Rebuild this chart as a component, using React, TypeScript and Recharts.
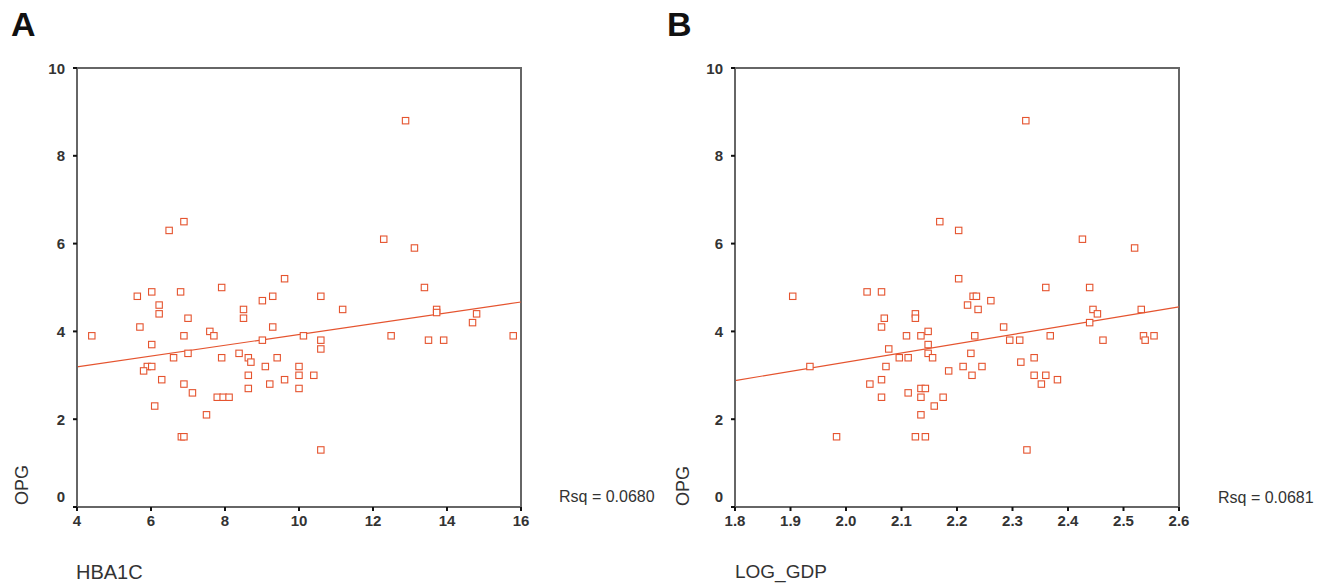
import React from "react";
import {
  ScatterChart,
  Scatter,
  XAxis,
  YAxis,
  ReferenceArea,
  ReferenceLine,
} from "recharts";

// Panel A: HBA1C vs OPG
const hba1c = [
  4.4, 5.63, 5.7, 6.02, 6.02, 6.22, 6.22, 5.9, 5.8, 6.02, 6.29, 6.1, 6.49, 6.89, 6.61, 6.8, 6.89,
  7.0, 7.0, 6.89, 7.12, 6.82, 6.89, 7.5, 7.59, 7.7, 7.91, 7.91, 7.79, 7.95, 8.11, 8.38, 8.5, 8.5,
  8.63, 8.7, 8.63, 8.63, 9.01, 9.01, 9.29, 9.29, 9.09, 9.21, 9.41, 9.61, 9.61, 10.0, 10.0, 10.0,
  10.12, 10.4, 10.59, 10.59, 10.59, 10.59, 11.18, 12.29, 12.49, 12.88, 13.12, 13.39, 13.5, 13.72,
  13.72, 13.91, 14.69, 14.8, 15.79,
];
const opgA = [
  3.9, 4.8, 4.1, 4.9, 3.7, 4.6, 4.4, 3.2, 3.1, 3.2, 2.9, 2.3, 6.3, 6.5, 3.4, 4.9, 3.9, 4.3, 3.5,
  2.8, 2.6, 1.6, 1.6, 2.1, 4.0, 3.9, 5.0, 3.4, 2.5, 2.5, 2.5, 3.5, 4.5, 4.3, 3.4, 3.3, 3.0, 2.7,
  4.7, 3.8, 4.8, 4.1, 3.2, 2.8, 3.4, 5.2, 2.9, 3.2, 3.0, 2.7, 3.9, 3.0, 4.8, 3.8, 3.6, 1.3, 4.5,
  6.1, 3.9, 8.8, 5.9, 5.0, 3.8, 4.5, 4.43, 3.8, 4.2, 4.4, 3.9,
];
const fitA = [
  { x: 4, y: 3.19 },
  { x: 16, y: 4.67 },
];

// Panel B: LOG_GDP vs OPG
const logGdp = [
  1.904, 1.935, 1.983, 2.038, 2.043, 2.064, 2.064, 2.064, 2.064, 2.069, 2.077, 2.072, 2.096, 2.109,
  2.112, 2.112, 2.125, 2.125, 2.125, 2.135, 2.135, 2.143, 2.135, 2.135, 2.143, 2.148, 2.148, 2.148,
  2.156, 2.159, 2.169, 2.175, 2.185, 2.203, 2.203, 2.211, 2.219, 2.225, 2.227, 2.229, 2.235, 2.238,
  2.232, 2.245, 2.261, 2.284, 2.295, 2.313, 2.315, 2.324, 2.326, 2.339, 2.339, 2.352, 2.36, 2.36,
  2.368, 2.381, 2.426, 2.439, 2.439, 2.445, 2.453, 2.463, 2.52, 2.532, 2.536, 2.539, 2.555,
];
const opgB = [
  4.8, 3.2, 1.6, 4.9, 2.8, 4.9, 4.1, 2.9, 2.5, 4.3, 3.6, 3.2, 3.4, 3.9, 3.4, 2.6, 4.4, 4.3, 1.6,
  3.9, 2.7, 2.7, 2.5, 2.1, 1.6, 4.0, 3.7, 3.5, 3.4, 2.3, 6.5, 2.5, 3.1, 6.3, 5.2, 3.2, 4.6, 3.5,
  3.0, 4.8, 4.8, 4.5, 3.9, 3.2, 4.7, 4.1, 3.8, 3.8, 3.3, 8.8, 1.3, 3.4, 3.0, 2.8, 5.0, 3.0, 3.9,
  2.9, 6.1, 5.0, 4.2, 4.5, 4.4, 3.8, 5.9, 4.5, 3.9, 3.8, 3.9,
];
const fitB = [
  { x: 1.8, y: 2.88 },
  { x: 2.6, y: 4.56 },
];

const ticksA = [4, 6, 8, 10, 12, 14, 16];
const ticksB = [1.8, 1.9, 2.0, 2.1, 2.2, 2.3, 2.4, 2.5, 2.6];
const ticksY = [0, 2, 4, 6, 8, 10];

const pointsA = hba1c.map((x, i) => ({ x, y: opgA[i] }));
const pointsB = logGdp.map((x, i) => ({ x, y: opgB[i] }));

const RED = "#e5542f";
const FRAME = "#666";
const FONT = "'Liberation Sans', Arial, sans-serif";

const SquareDot = (props: any) => {
  const { cx, cy } = props;
  if (cx == null || cy == null) return null;
  return (
    <rect x={cx - 3.2} y={cy - 3.2} width={6.4} height={6.4} fill="#fff" stroke={RED} strokeWidth={1.1} />
  );
};

const YTick = (props: any) => {
  const { x, y, payload } = props;
  const off = payload.value === 0 ? -11 : 0;
  return (
    <text
      x={x}
      y={y + off}
      textAnchor="end"
      dominantBaseline="central"
      fontFamily={FONT}
      fontSize={15}
      fontWeight="bold"
      fill="#333"
    >
      {payload.value}
    </text>
  );
};

const makeXTick = (digits: number) => (props: any) => {
  const { x, y, payload } = props;
  return (
    <text
      x={x}
      y={y}
      textAnchor="middle"
      dominantBaseline="hanging"
      fontFamily={FONT}
      fontSize={15}
      fontWeight="bold"
      fill="#333"
    >
      {Number(payload.value).toFixed(digits)}
    </text>
  );
};

type PanelProps = {
  left: number;
  marginLeft: number;
  marginRight: number;
  data: { x: number; y: number }[];
  xDomain: [number, number];
  xTicks: number[];
  digits: number;
  fit: { x: number; y: number }[];
};

const Panel = ({ left, marginLeft, marginRight, data, xDomain, xTicks, digits, fit }: PanelProps) => (
  <div style={{ position: "absolute", left, top: 0 }}>
    <ScatterChart
      width={600}
      height={585}
      margin={{ top: 68, left: marginLeft, right: marginRight, bottom: 48 }}
    >
      <XAxis
        type="number"
        dataKey="x"
        domain={xDomain}
        ticks={xTicks}
        allowDataOverflow
        height={30}
        axisLine={{ stroke: FRAME, strokeWidth: 2 }}
        tickLine={{ stroke: "#111", strokeWidth: 2 }}
        tickSize={4}
        tickMargin={4}
        tick={makeXTick(digits)}
        interval={0}
      />
      <YAxis
        type="number"
        dataKey="y"
        domain={[0, 10]}
        ticks={ticksY}
        allowDataOverflow
        width={60}
        axisLine={{ stroke: FRAME, strokeWidth: 2 }}
        tickLine={{ stroke: "#111", strokeWidth: 2 }}
        tickSize={4}
        tickMargin={8}
        tick={<YTick />}
        interval={0}
      />
      <ReferenceArea
        x1={xDomain[0]}
        x2={xDomain[1]}
        y1={0}
        y2={10}
        fill="none"
        stroke={FRAME}
        strokeWidth={2}
        ifOverflow="visible"
      />
      <ReferenceLine
        segment={fit}
        stroke={RED}
        strokeWidth={1.2}
        ifOverflow="visible"
      />
      <Scatter data={data} shape={<SquareDot />} isAnimationActive={false} />
    </ScatterChart>
  </div>
);

export default function App() {
  return (
    <div
      style={{
        position: "absolute",
        left: 0,
        top: 0,
        width: 1327,
        height: 585,
        background: "#fff",
        overflow: "hidden",
      }}
    >
      <Panel
        left={0}
        marginLeft={17}
        marginRight={79}
        data={pointsA}
        xDomain={[4, 16]}
        xTicks={ticksA}
        digits={0}
        fit={fitA}
      />
      <Panel
        left={640}
        marginLeft={35}
        marginRight={61}
        data={pointsB}
        xDomain={[1.8, 2.6]}
        xTicks={ticksB}
        digits={1}
        fit={fitB}
      />
      <svg
        width={1327}
        height={585}
        style={{ position: "absolute", left: 0, top: 0, pointerEvents: "none" }}
      >
        <g fontFamily={FONT}>
          <text x={11} y={36} fontSize={34} fontWeight="bold" fill="#111">A</text>
          <text x={667} y={36} fontSize={34} fontWeight="bold" fill="#111">B</text>
          <text
            transform="translate(22,485) rotate(-90)"
            textAnchor="middle"
            dominantBaseline="central"
            fontSize={18}
            fill="#333"
          >
            OPG
          </text>
          <text
            transform="translate(683,486) rotate(-90)"
            textAnchor="middle"
            dominantBaseline="central"
            fontSize={18}
            fill="#333"
          >
            OPG
          </text>
          <text x={76} y={572} dominantBaseline="central" fontSize={20} fill="#333">HBA1C</text>
          <text x={735} y={571} dominantBaseline="central" fontSize={19} fill="#333">LOG_GDP</text>
          <text x={559} y={496} dominantBaseline="central" fontSize={16} fill="#333">Rsq = 0.0680</text>
          <text x={1218} y={497} dominantBaseline="central" fontSize={16} fill="#333">Rsq = 0.0681</text>
        </g>
      </svg>
    </div>
  );
}
